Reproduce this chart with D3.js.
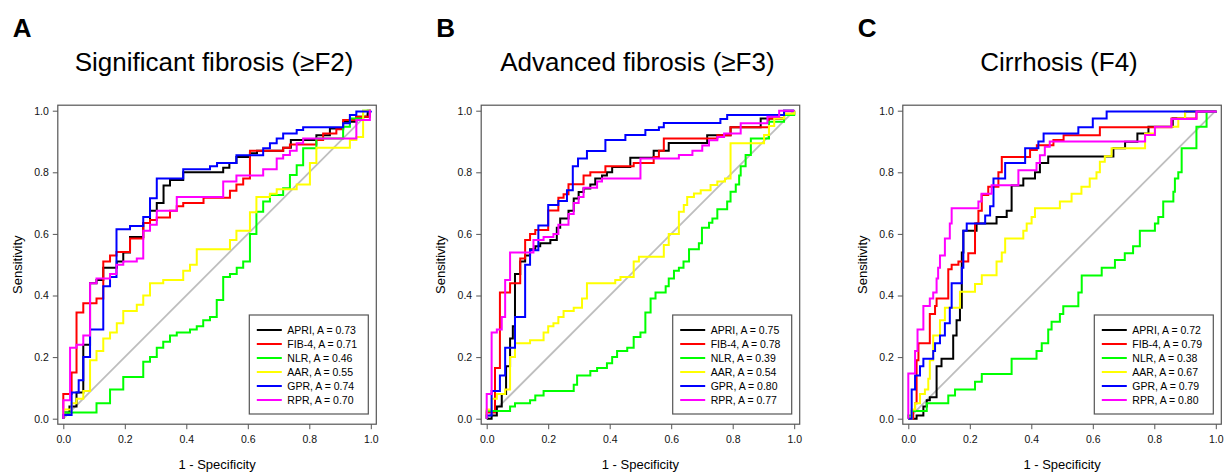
<!DOCTYPE html>
<html>
<head>
<meta charset="utf-8">
<script src="https://cdn.jsdelivr.net/npm/d3@7"></script>
<style>
  body { margin: 0; background: #fff; }
  text { font-family: "Liberation Sans", Arial, Helvetica, sans-serif; }
</style>
</head>
<body>
<svg id="chart" width="1232" height="473"></svg>
<script>
// markers and their legend colours
const markers = ["APRI", "FIB-4", "NLR", "AAR", "GPR", "RPR"];
const colors = ["#000000", "#ff0000", "#00ff00", "#ffff00", "#0000ff", "#ff00ff"];

const letters = ["A", "B", "C"];
const titles = ["Significant fibrosis (\u2265F2)", "Advanced fibrosis (\u2265F3)", "Cirrhosis (F4)"];

// AUC per marker, same order as markers
const aucF2 = [0.73, 0.71, 0.46, 0.55, 0.74, 0.70];
const aucF3 = [0.75, 0.78, 0.39, 0.54, 0.80, 0.77];
const aucF4 = [0.72, 0.79, 0.38, 0.67, 0.79, 0.80];

const tickValues = [0, 0.2, 0.4, 0.6, 0.8, 1.0];

// ROC points [1 - specificity, sensitivity]
// each point is the top of a vertical step
const rocF2APRI = [[0,0],[0,0.02],[0.02,0.04],[0.043,0.085],[0.065,0.24],[0.087,0.44],[0.108,0.45],[0.13,0.49],[0.174,0.51],[0.195,0.54],[0.217,0.59],[0.26,0.635],[0.282,0.675],[0.304,0.70],[0.326,0.757],[0.347,0.775],[0.39,0.80],[0.52,0.815],[0.54,0.83],[0.563,0.85],[0.607,0.862],[0.63,0.87],[0.715,0.88],[0.74,0.905],[0.823,0.92],[0.867,0.942],[0.91,0.964],[0.953,0.98],[0.99,1],[1,1]];
const rocF2FIB4 = [[0,0],[0,0.08],[0.027,0.15],[0.043,0.345],[0.065,0.375],[0.108,0.39],[0.13,0.51],[0.152,0.53],[0.173,0.541],[0.217,0.585],[0.26,0.635],[0.282,0.645],[0.304,0.653],[0.347,0.675],[0.369,0.69],[0.39,0.70],[0.456,0.717],[0.542,0.74],[0.563,0.76],[0.585,0.78],[0.607,0.87],[0.715,0.88],[0.737,0.89],[0.823,0.905],[0.845,0.926],[0.888,0.94],[0.91,0.97],[0.953,0.98],[0.997,1],[1,1]];
const rocF2NLR = [[0,0],[0,0.02],[0.108,0.05],[0.152,0.095],[0.195,0.135],[0.26,0.185],[0.282,0.2],[0.304,0.23],[0.325,0.25],[0.347,0.27],[0.369,0.28],[0.412,0.29],[0.434,0.30],[0.455,0.32],[0.477,0.33],[0.499,0.385],[0.52,0.46],[0.542,0.47],[0.564,0.49],[0.585,0.51],[0.607,0.60],[0.628,0.672],[0.65,0.705],[0.672,0.726],[0.715,0.748],[0.737,0.791],[0.759,0.823],[0.78,0.878],[0.823,0.91],[0.91,0.948],[0.932,0.975],[0.975,1],[1,1]];
const rocF2AAR = [[0,0],[0,0.03],[0.027,0.05],[0.043,0.065],[0.065,0.09],[0.087,0.19],[0.108,0.22],[0.13,0.26],[0.152,0.28],[0.174,0.31],[0.195,0.35],[0.239,0.37],[0.26,0.40],[0.282,0.44],[0.325,0.45],[0.39,0.48],[0.412,0.50],[0.434,0.55],[0.542,0.58],[0.563,0.61],[0.607,0.67],[0.628,0.72],[0.672,0.73],[0.694,0.745],[0.759,0.76],[0.802,0.83],[0.823,0.88],[0.932,0.905],[0.953,0.915],[0.975,1],[1,1]];
const rocF2GPR = [[0,0],[0,0.012],[0.027,0.085],[0.05,0.125],[0.065,0.2],[0.087,0.29],[0.13,0.43],[0.152,0.46],[0.173,0.615],[0.217,0.626],[0.26,0.655],[0.282,0.716],[0.304,0.78],[0.39,0.81],[0.477,0.82],[0.5,0.83],[0.563,0.855],[0.65,0.878],[0.672,0.894],[0.694,0.91],[0.715,0.926],[0.759,0.937],[0.78,0.946],[0.91,0.959],[0.932,0.986],[0.953,0.997],[1,1]];
const rocF2RPR = [[0,0],[0,0.06],[0.022,0.23],[0.043,0.24],[0.065,0.27],[0.087,0.44],[0.108,0.455],[0.152,0.47],[0.173,0.5],[0.195,0.51],[0.239,0.52],[0.26,0.61],[0.282,0.63],[0.304,0.675],[0.369,0.72],[0.52,0.77],[0.563,0.79],[0.65,0.81],[0.694,0.845],[0.715,0.856],[0.737,0.87],[0.759,0.894],[0.78,0.91],[0.953,0.97],[0.997,1],[1,1]];

const rocF3APRI = [[0,0],[0.016,0.01],[0.033,0.04],[0.049,0.08],[0.063,0.17],[0.076,0.26],[0.085,0.30],[0.092,0.47],[0.109,0.51],[0.125,0.53],[0.141,0.55],[0.158,0.56],[0.174,0.57],[0.207,0.58],[0.228,0.62],[0.239,0.65],[0.266,0.675],[0.283,0.715],[0.299,0.736],[0.315,0.747],[0.337,0.76],[0.353,0.78],[0.375,0.79],[0.391,0.80],[0.408,0.817],[0.467,0.847],[0.543,0.87],[0.592,0.895],[0.717,0.92],[0.793,0.946],[0.891,0.975],[0.967,1],[1,1]];
const rocF3FIB4 = [[0,0],[0,0.02],[0.027,0.165],[0.043,0.41],[0.076,0.44],[0.109,0.52],[0.125,0.58],[0.141,0.60],[0.158,0.613],[0.2,0.676],[0.233,0.717],[0.25,0.729],[0.266,0.761],[0.315,0.79],[0.337,0.80],[0.386,0.82],[0.478,0.83],[0.543,0.85],[0.56,0.87],[0.576,0.91],[0.75,0.92],[0.793,0.946],[0.918,0.975],[0.967,0.99],[1,1]];
const rocF3NLR = [[0,0],[0,0.025],[0.076,0.04],[0.092,0.05],[0.141,0.06],[0.158,0.075],[0.185,0.09],[0.283,0.11],[0.294,0.14],[0.337,0.155],[0.359,0.165],[0.391,0.18],[0.408,0.2],[0.424,0.22],[0.457,0.23],[0.478,0.265],[0.5,0.28],[0.516,0.345],[0.533,0.39],[0.549,0.41],[0.582,0.43],[0.592,0.455],[0.609,0.48],[0.625,0.49],[0.64,0.51],[0.658,0.55],[0.69,0.57],[0.70,0.62],[0.723,0.636],[0.734,0.65],[0.75,0.68],[0.782,0.705],[0.793,0.737],[0.81,0.76],[0.821,0.79],[0.826,0.82],[0.842,0.856],[0.859,0.91],[0.918,0.964],[0.967,0.986],[1,1]];
const rocF3AAR = [[0,0],[0,0.03],[0.016,0.065],[0.033,0.08],[0.06,0.095],[0.076,0.2],[0.092,0.245],[0.141,0.255],[0.185,0.28],[0.2,0.30],[0.217,0.31],[0.233,0.33],[0.25,0.35],[0.283,0.36],[0.31,0.39],[0.326,0.44],[0.418,0.45],[0.435,0.46],[0.478,0.51],[0.495,0.526],[0.576,0.564],[0.592,0.60],[0.625,0.672],[0.641,0.694],[0.652,0.72],[0.674,0.731],[0.696,0.742],[0.728,0.759],[0.75,0.77],[0.775,0.78],[0.793,0.894],[0.902,0.921],[0.918,0.95],[0.935,0.975],[0.967,0.99],[1,1]];
const rocF3GPR = [[0,0],[0,0.01],[0.016,0.09],[0.043,0.14],[0.06,0.23],[0.092,0.33],[0.125,0.5],[0.141,0.547],[0.168,0.627],[0.2,0.694],[0.233,0.707],[0.261,0.742],[0.28,0.82],[0.297,0.845],[0.326,0.869],[0.386,0.905],[0.451,0.921],[0.516,0.937],[0.56,0.946],[0.576,0.96],[0.76,0.973],[0.782,0.986],[0.967,1],[1,1]];
const rocF3RPR = [[0,0],[0,0.08],[0.016,0.28],[0.033,0.29],[0.049,0.33],[0.06,0.45],[0.076,0.54],[0.152,0.58],[0.185,0.59],[0.217,0.60],[0.233,0.63],[0.266,0.665],[0.283,0.70],[0.299,0.72],[0.315,0.75],[0.359,0.77],[0.375,0.78],[0.5,0.845],[0.625,0.856],[0.669,0.87],[0.701,0.887],[0.723,0.904],[0.75,0.915],[0.772,0.926],[0.826,0.959],[0.913,0.98],[0.951,1],[1,1]];

const rocF4APRI = [[0,0],[0.027,0.01],[0.049,0.04],[0.06,0.06],[0.07,0.07],[0.092,0.17],[0.108,0.195],[0.146,0.27],[0.157,0.32],[0.168,0.36],[0.174,0.54],[0.179,0.61],[0.222,0.634],[0.287,0.655],[0.32,0.675],[0.336,0.757],[0.374,0.78],[0.412,0.80],[0.428,0.83],[0.455,0.851],[0.667,0.878],[0.705,0.899],[0.745,0.926],[0.781,0.948],[0.86,0.975],[0.9,0.997],[1,1]];
const rocF4FIB4 = [[0,0],[0.016,0.025],[0.022,0.05],[0.027,0.19],[0.033,0.245],[0.055,0.245],[0.07,0.34],[0.087,0.366],[0.092,0.39],[0.13,0.485],[0.141,0.50],[0.163,0.51],[0.195,0.537],[0.217,0.634],[0.228,0.675],[0.239,0.726],[0.26,0.753],[0.293,0.80],[0.304,0.85],[0.396,0.872],[0.418,0.888],[0.472,0.905],[0.505,0.92],[0.623,0.946],[0.856,0.975],[0.937,0.997],[1,1]];
const rocF4NLR = [[0,0],[0,0.01],[0.011,0.025],[0.06,0.05],[0.13,0.075],[0.152,0.095],[0.217,0.12],[0.239,0.145],[0.336,0.195],[0.417,0.22],[0.434,0.245],[0.455,0.29],[0.466,0.315],[0.493,0.34],[0.504,0.365],[0.553,0.41],[0.564,0.465],[0.629,0.49],[0.672,0.515],[0.704,0.537],[0.731,0.56],[0.753,0.61],[0.802,0.634],[0.813,0.655],[0.829,0.705],[0.862,0.737],[0.867,0.78],[0.878,0.80],[0.889,0.878],[0.937,0.948],[0.97,0.997],[1,1]];
const rocF4AAR = [[0,0],[0.011,0.03],[0.022,0.05],[0.038,0.08],[0.054,0.095],[0.065,0.13],[0.07,0.19],[0.081,0.27],[0.103,0.32],[0.119,0.36],[0.168,0.412],[0.217,0.437],[0.239,0.466],[0.287,0.51],[0.304,0.54],[0.315,0.585],[0.374,0.61],[0.385,0.634],[0.401,0.655],[0.412,0.683],[0.493,0.705],[0.531,0.73],[0.563,0.753],[0.59,0.78],[0.612,0.80],[0.623,0.834],[0.639,0.852],[0.661,0.878],[0.77,0.926],[0.802,0.948],[0.878,0.975],[0.9,0.997],[1,1]];
const rocF4GPR = [[0,0],[0.011,0.095],[0.022,0.14],[0.038,0.17],[0.049,0.195],[0.081,0.22],[0.087,0.245],[0.103,0.27],[0.119,0.31],[0.135,0.36],[0.141,0.44],[0.174,0.49],[0.179,0.61],[0.19,0.634],[0.25,0.66],[0.266,0.69],[0.277,0.78],[0.315,0.83],[0.38,0.878],[0.423,0.90],[0.44,0.926],[0.553,0.946],[0.6,0.975],[0.645,0.997],[1,1]];
const rocF4RPR = [[0,0],[0,0.147],[0.022,0.22],[0.03,0.29],[0.049,0.366],[0.07,0.39],[0.081,0.41],[0.092,0.455],[0.097,0.49],[0.103,0.53],[0.119,0.585],[0.135,0.634],[0.141,0.683],[0.228,0.705],[0.238,0.73],[0.271,0.758],[0.358,0.807],[0.417,0.83],[0.428,0.855],[0.444,0.883],[0.46,0.9],[0.77,0.921],[0.802,0.948],[0.856,0.973],[0.937,0.997],[1,1]];

const panels = [
  { letter: letters[0], title: titles[0], auc: aucF2,
    curves: [rocF2APRI, rocF2FIB4, rocF2NLR, rocF2AAR, rocF2GPR, rocF2RPR] },
  { letter: letters[1], title: titles[1], auc: aucF3,
    curves: [rocF3APRI, rocF3FIB4, rocF3NLR, rocF3AAR, rocF3GPR, rocF3RPR] },
  { letter: letters[2], title: titles[2], auc: aucF4,
    curves: [rocF4APRI, rocF4FIB4, rocF4NLR, rocF4AAR, rocF4GPR, rocF4RPR] }
];

// layout
const plotLeft = [63.3, 486.7, 908.3];
const plotW = 307.5;
const yTop = 110.7, yBot = 418.7;
const pad = 5.5;

const svg = d3.select("#chart");

panels.forEach(function(p, i) {
  const x = d3.scaleLinear().domain([0, 1]).range([plotLeft[i], plotLeft[i] + plotW]);
  const y = d3.scaleLinear().domain([0, 1]).range([yBot, yTop]);
  const g = svg.append("g");

  const bx0 = x(0) - pad, bx1 = x(1) + pad;
  const by0 = y(1) - pad, by1 = y(0) + pad;

  // panel letter and title
  g.append("text")
    .attr("x", bx0 - 45).attr("y", 37)
    .attr("font-size", 26).attr("font-weight", "bold")
    .text(p.letter);
  g.append("text")
    .attr("x", (bx0 + bx1) / 2 - 3).attr("y", 71)
    .attr("text-anchor", "middle")
    .attr("font-size", 26)
    .text(p.title);

  // diagonal reference
  g.append("line")
    .attr("x1", x(0)).attr("y1", y(0))
    .attr("x2", x(1)).attr("y2", y(1))
    .attr("stroke", "#bebebe").attr("stroke-width", 1.8);

  // ROC curves
  const line = d3.line()
    .x(d => x(d[0]))
    .y(d => y(d[1]))
    .curve(d3.curveStepAfter);

  g.selectAll("path.roc")
    .data(p.curves)
    .enter().append("path")
    .attr("class", "roc")
    .attr("d", line)
    .attr("fill", "none")
    .attr("stroke", (d, k) => colors[k])
    .attr("stroke-width", 2);

  // box
  g.append("rect")
    .attr("x", bx0).attr("y", by0)
    .attr("width", bx1 - bx0).attr("height", by1 - by0)
    .attr("fill", "none").attr("stroke", "#555").attr("stroke-width", 1.2);

  // axes
  const xAxis = g.append("g")
    .attr("transform", "translate(0," + by1 + ")")
    .call(d3.axisBottom(x).tickValues(tickValues).tickFormat(d3.format(".1f")).tickSize(5).tickPadding(6));
  const yAxis = g.append("g")
    .attr("transform", "translate(" + bx0 + ",0)")
    .call(d3.axisLeft(y).tickValues(tickValues).tickFormat(d3.format(".1f")).tickSize(5).tickPadding(4));
  [xAxis, yAxis].forEach(function(a) {
    a.select(".domain").remove();
    a.selectAll(".tick line").attr("stroke", "#555");
    a.selectAll(".tick text")
      .attr("font-size", 10.5).attr("fill", "#111")
      .attr("font-family", "Liberation Sans, Arial, sans-serif");
  });

  g.append("text")
    .attr("x", (bx0 + bx1) / 2).attr("y", 469)
    .attr("text-anchor", "middle").attr("font-size", 13)
    .text("1 - Specificity");
  g.append("text")
    .attr("transform", "translate(" + (bx0 - 36) + "," + ((yTop + yBot) / 2) + ") rotate(-90)")
    .attr("text-anchor", "middle").attr("font-size", 13)
    .text("Sensitivity");

  // legend
  const legW = 119, legTop = 315, legBot = 414;
  const legX = bx1 - 8 - legW;
  g.append("rect")
    .attr("x", legX).attr("y", legTop)
    .attr("width", legW).attr("height", legBot - legTop)
    .attr("fill", "#fff").attr("stroke", "#555").attr("stroke-width", 1.2);
  const rows = g.selectAll("g.leg")
    .data(markers)
    .enter().append("g")
    .attr("class", "leg")
    .attr("transform", (d, k) => "translate(" + legX + "," + (legTop + 15 + k * 14) + ")");
  rows.append("line")
    .attr("x1", 7.5).attr("x2", 32.5)
    .attr("stroke", (d, k) => colors[k]).attr("stroke-width", 2);
  rows.append("text")
    .attr("x", 38).attr("y", 3.8)
    .attr("font-size", 10.5)
    .text((d, k) => d + ", A = " + p.auc[k].toFixed(2));
});
</script>
</body>
</html>
